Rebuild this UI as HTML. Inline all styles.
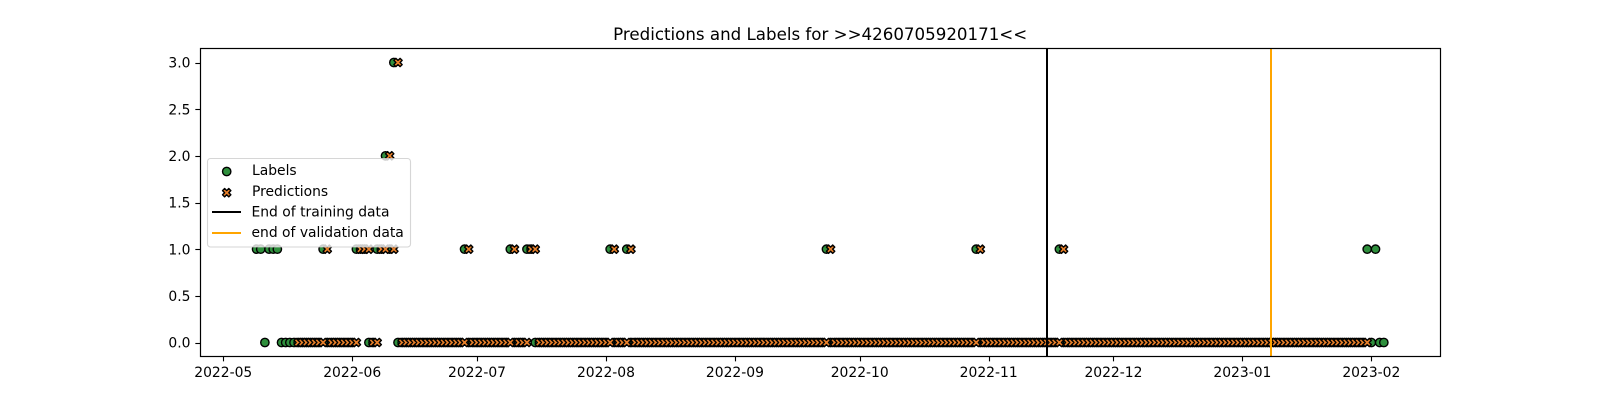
<!DOCTYPE html>
<html lang="en">
<head>
<meta charset="utf-8">
<title>Predictions and Labels</title>
<style>
html,body{margin:0;padding:0;background:#fff;width:1600px;height:400px;overflow:hidden}
svg{display:block}
text{font-family:"DejaVu Sans","Liberation Sans",sans-serif;fill:#000}
.tick{font-size:13.89px}
.leg{font-size:13.89px}
</style>
</head>
<body>
<svg id="chart" xmlns="http://www.w3.org/2000/svg" width="1600" height="400" viewBox="0 0 1600 400">
  <rect x="0" y="0" width="1600" height="400" fill="#fff"/>
  <text x="820.2" y="40.2" font-size="16.67" text-anchor="middle">Predictions and Labels for &gt;&gt;4260705920171&lt;&lt;</text>
  <g id="ticks"></g>
  <g id="label-marks"></g>
  <g id="pred-marks"></g>
  <g id="vlines"></g>
  <rect x="200.5" y="48.5" width="1240" height="308" fill="none" stroke="#000" stroke-width="1.2"/>
  <g>
    <rect x="207.5" y="158.5" width="203" height="88.5" rx="3" ry="3" fill="#fff" fill-opacity="0.8" stroke="#ccc" stroke-opacity="0.8" stroke-width="1.11"/>
    <g id="legend-label-swatch"></g>
    <text class="leg" x="252" y="175">Labels</text>
    <g id="legend-pred-swatch"></g>
    <text class="leg" x="252" y="196">Predictions</text>
    <line x1="212" x2="241" y1="212" y2="212" stroke="#000" stroke-width="2"/>
    <text class="leg" x="251.5" y="216.5">End of training data</text>
    <line x1="212" x2="241" y1="233" y2="233" stroke="#ffa500" stroke-width="2"/>
    <text class="leg" x="251.5" y="237">end of validation data</text>
  </g>
</svg>
<script>
// ---- chart data ----
const labelStartDate = '2022-05-09';
const labelValues = [
  /* May 9-31 */ 1,1,0,1,1,1,0,0,0,0,0,0,0,0,0,0,1,0,0,0,0,0,0,
  /* Jun */ 0,1,1,1,0,0,1,1,2,1,3,0,0,0,0,0,0,0,0,0,0,0,0,0,0,0,0,1,0,0,
  /* Jul */ 0,0,0,0,0,0,0,0,1,0,0,0,1,1,0,0,0,0,0,0,0,0,0,0,0,0,0,0,0,0,0,
  /* Aug */ 0,1,0,0,0,1,0,0,0,0,0,0,0,0,0,0,0,0,0,0,0,0,0,0,0,0,0,0,0,0,0,
  /* Sep */ 0,0,0,0,0,0,0,0,0,0,0,0,0,0,0,0,0,0,0,0,0,0,1,0,0,0,0,0,0,0,
  /* Oct */ 0,0,0,0,0,0,0,0,0,0,0,0,0,0,0,0,0,0,0,0,0,0,0,0,0,0,0,0,1,0,0,
  /* Nov */ 0,0,0,0,0,0,0,0,0,0,0,0,0,0,0,0,0,1,0,0,0,0,0,0,0,0,0,0,0,0,
  /* Dec */ 0,0,0,0,0,0,0,0,0,0,0,0,0,0,0,0,0,0,0,0,0,0,0,0,0,0,0,0,0,0,0,
  /* Jan */ 0,0,0,0,0,0,0,0,0,0,0,0,0,0,0,0,0,0,0,0,0,0,0,0,0,0,0,0,0,0,1,
  /* Feb 1-4 */ 0,1,0,0
];
const predictionStartDate = '2022-05-19';
const predictionValues = [
  /* May 19-31 */ 0,0,0,0,0,0,0,1,0,0,0,0,0,
  /* Jun */ 0,0,1,1,1,0,0,1,1,2,1,3,0,0,0,0,0,0,0,0,0,0,0,0,0,0,0,0,1,0,
  /* Jul */ 0,0,0,0,0,0,0,0,0,1,0,0,0,1,1,0,0,0,0,0,0,0,0,0,0,0,0,0,0,0,0,
  /* Aug */ 0,0,1,0,0,0,1,0,0,0,0,0,0,0,0,0,0,0,0,0,0,0,0,0,0,0,0,0,0,0,0,
  /* Sep */ 0,0,0,0,0,0,0,0,0,0,0,0,0,0,0,0,0,0,0,0,0,0,0,1,0,0,0,0,0,0,
  /* Oct */ 0,0,0,0,0,0,0,0,0,0,0,0,0,0,0,0,0,0,0,0,0,0,0,0,0,0,0,0,0,1,0,
  /* Nov */ 0,0,0,0,0,0,0,0,0,0,0,0,0,0,0,0,0,0,1,0,0,0,0,0,0,0,0,0,0,0,
  /* Dec */ 0,0,0,0,0,0,0,0,0,0,0,0,0,0,0,0,0,0,0,0,0,0,0,0,0,0,0,0,0,0,0,
  /* Jan */ 0,0,0,0,0,0,0,0,0,0,0,0,0,0,0,0,0,0,0,0,0,0,0,0,0,0,0,0,0,0,0
];
const xTickLabels = ['2022-05','2022-06','2022-07','2022-08','2022-09','2022-10','2022-11','2022-12','2023-01','2023-02'];
const yTickValues = [0,0.5,1,1.5,2,2.5,3];
const yTickLabels = ['0.0','0.5','1.0','1.5','2.0','2.5','3.0'];
const trainingEndDate = '2022-11-15';
const validationEndDate = '2023-01-08';
const xDomain = ['2022-05-09','2023-02-04'];
const yDomain = [-0.15,3.15];

// ---- axis functions ----
const NS = 'http://www.w3.org/2000/svg';
const plot = {left:200.2,right:1440.2,top:48.5,bottom:356.5};
const DAY = 86400000;
function toDays(s){
  const p = s.split('-').map(Number);
  return Date.UTC(p[0],p[1]-1,p[2]||1)/DAY;
}
const xMin = toDays(xDomain[0]), xMax = toDays(xDomain[1]);
const xMargin = (xMax-xMin)*0.05;
function xScale(days){
  return plot.left + (days-(xMin-xMargin))/((xMax+xMargin)-(xMin-xMargin))*(plot.right-plot.left);
}
function yScale(v){
  return plot.bottom - (v-yDomain[0])/(yDomain[1]-yDomain[0])*(plot.bottom-plot.top);
}
function circle(parent,cx,cy){
  const c = document.createElementNS(NS,'circle');
  c.setAttribute('cx',cx);
  c.setAttribute('cy',cy);
  c.setAttribute('r',4.17);
  c.setAttribute('fill','#2e8f3c');
  c.setAttribute('stroke','#000');
  c.setAttribute('stroke-width',1.39);
  parent.appendChild(c);
  return c;
}
const xShape = [[-1,-2],[0,-1],[1,-2],[2,-1],[1,0],[2,1],[1,2],[0,1],[-1,2],[-2,1],[-1,0],[-2,-1]];
function cross(parent,cx,cy){
  const k = 8.33/4;
  const p = document.createElementNS(NS,'polygon');
  p.setAttribute('points',xShape.map(function(v){return (cx+v[0]*k).toFixed(2)+','+(cy+v[1]*k).toFixed(2);}).join(' '));
  p.setAttribute('fill','#e8802a');
  p.setAttribute('stroke','#000');
  p.setAttribute('stroke-width',1.39);
  p.setAttribute('stroke-linejoin','round');
  parent.appendChild(p);
  return p;
}

// ---- ticks ----
const ticksG = document.getElementById('ticks');
xTickLabels.forEach(function(lbl){
  const x = xScale(toDays(lbl));
  const t = document.createElementNS(NS,'line');
  
  
  t.setAttribute('x1',Math.round(x)+0.5);
  t.setAttribute('x2',Math.round(x)+0.5);
  t.setAttribute('y1',plot.bottom);
  t.setAttribute('y2',plot.bottom+4.86);
  t.setAttribute('stroke','#000');
  t.setAttribute('stroke-width',1.11);
  ticksG.appendChild(t);
  const tx = document.createElementNS(NS,'text');
  
  
  tx.setAttribute('class','tick');
  tx.setAttribute('x',x);
  tx.setAttribute('y',377);
  tx.setAttribute('text-anchor','middle');
  tx.textContent = lbl;
  ticksG.appendChild(tx);
});
yTickValues.forEach(function(v,i){
  const y = yScale(v);
  const t = document.createElementNS(NS,'line');
  
  
  t.setAttribute('x1',plot.left-4.86);
  t.setAttribute('x2',plot.left);
  t.setAttribute('y1',Math.round(y)+0.5);
  t.setAttribute('y2',Math.round(y)+0.5);
  t.setAttribute('stroke','#000');
  t.setAttribute('stroke-width',1.11);
  ticksG.appendChild(t);
  const tx = document.createElementNS(NS,'text');
  
  
  tx.setAttribute('class','tick');
  tx.setAttribute('x',plot.left-9.7);
  tx.setAttribute('y',y+5.2);
  tx.setAttribute('text-anchor','end');
  tx.textContent = yTickLabels[i];
  ticksG.appendChild(tx);
});

// ---- series ----
const labelsG = document.getElementById('label-marks');
const labelStart = toDays(labelStartDate);
labelValues.forEach(function(v,i){
  const m = circle(labelsG,xScale(labelStart+i),yScale(v));
  
  
});
const predsG = document.getElementById('pred-marks');
const predStart = toDays(predictionStartDate);
predictionValues.forEach(function(v,i){
  const m = cross(predsG,xScale(predStart+i),yScale(v));
  
  
});

// ---- vertical lines ----
const vG = document.getElementById('vlines');
const trainLine = document.createElementNS(NS,'line');


trainLine.setAttribute('x1',Math.round(xScale(toDays(trainingEndDate))-0.35));
trainLine.setAttribute('x2',Math.round(xScale(toDays(trainingEndDate))-0.35));
trainLine.setAttribute('y1',plot.top);
trainLine.setAttribute('y2',plot.bottom);
trainLine.setAttribute('stroke','#000');
trainLine.setAttribute('stroke-width',2);
vG.appendChild(trainLine);
const valLine = document.createElementNS(NS,'line');


valLine.setAttribute('x1',Math.round(xScale(toDays(validationEndDate))-0.35));
valLine.setAttribute('x2',Math.round(xScale(toDays(validationEndDate))-0.35));
valLine.setAttribute('y1',plot.top);
valLine.setAttribute('y2',plot.bottom);
valLine.setAttribute('stroke','#ffa500');
valLine.setAttribute('stroke-width',2);
vG.appendChild(valLine);

// ---- legend swatches ----
circle(document.getElementById('legend-label-swatch'),226.7,171.5);
cross(document.getElementById('legend-pred-swatch'),226.7,192.7);
</script>
</body>
</html>
